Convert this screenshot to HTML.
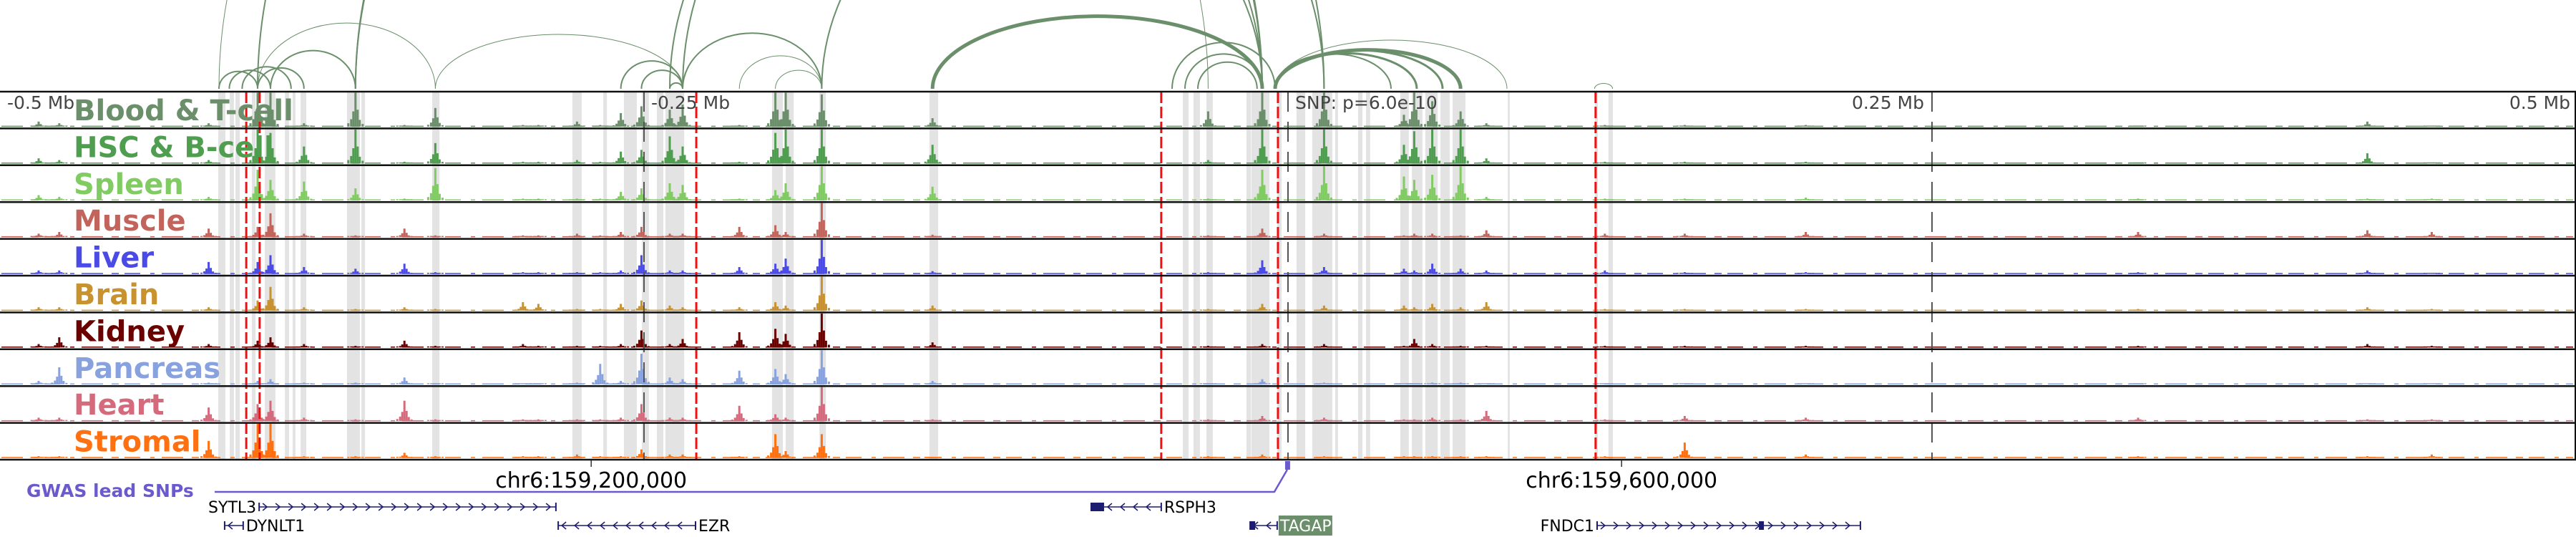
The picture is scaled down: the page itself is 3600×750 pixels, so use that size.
<!DOCTYPE html>
<html><head><meta charset="utf-8"><title>Genome tracks</title>
<style>
html,body{margin:0;padding:0;background:#fff;}
svg{display:block;font-family:"DejaVu Sans","Liberation Sans",sans-serif;}
</style></head>
<body>
<svg id="fig" width="3600" height="750" viewBox="0 0 3600 750" xmlns="http://www.w3.org/2000/svg">
<defs><clipPath id="arcclip"><rect x="0" y="0" width="3600" height="125"/></clipPath></defs>
<g id="arcs" clip-path="url(#arcclip)"></g>
<g id="bands"></g>
<g id="tracks"></g>
<g id="vlines"></g>
<g id="borders"></g>
<g id="labels"></g>
<g id="genes"></g>
</svg>
<script>
// ---- data ----
const trackNames = ["Blood & T-cell","HSC & B-cell","Spleen","Muscle","Liver","Brain","Kidney","Pancreas","Heart","Stromal"];
const trackColors = ["#6a8f6a","#4f9d4f","#80cc62","#c3645c","#4a4ae6","#c8922e","#6b0000","#88a2e0","#d46a7c","#ff7010"];
const peakPos = [-485,-477,-419,-400,-395,-382,-362,-343,-331,-297,-291,-276,-267,-259,-251,-240,-235,-213,-199,-195,-181,-138,-31,-10,14,45,49,56,67,77,123,154,201,330,419,444];
const hBlood   = [.15,.1,.1,1,1,.1,1,.05,.55,.05,.05,.15,.05,.4,.6,.5,.65,.05,1,1,.95,.25,.45,1,1,.35,1,.75,.45,.1,.05,.05,.05,.03,.15,.03];
const hHSC     = [.15,.1,.1,1,.9,.5,1,.05,.6,.05,.05,.1,.05,.35,.4,.8,.5,.05,.9,1,1,.55,.1,1,1,.55,.95,1,1,.15,.05,.05,.05,.03,.3,.03];
const hSpleen  = [.15,.1,.1,.9,.6,.55,.35,.05,.95,.05,.05,.05,.05,.25,.35,.5,.45,.05,.3,.5,1,.4,.05,.9,1,.7,.6,.75,1,.1,.05,.05,.08,.05,.05,.05];
const hMuscle  = [.1,.15,.25,.3,.7,.1,.05,.25,.05,.05,.05,.1,.05,.15,.3,.1,.1,.3,.35,.15,1,.07,.05,.25,.1,.05,.1,.1,.05,.2,.1,.1,.15,.15,.2,.15];
const hLiver   = [.1,.1,.35,.35,.55,.2,.15,.3,.05,.05,.05,.05,.05,.1,.55,.1,.1,.2,.3,.45,1,.08,.05,.4,.2,.15,.1,.3,.15,.1,.1,.05,.05,.05,.1,.03];
const hBrain   = [.1,.1,.1,.3,.7,.1,.05,.1,.05,.25,.2,.05,.05,.2,.3,.15,.1,.1,.25,.15,1,.15,.05,.2,.15,.15,.1,.2,.1,.25,.05,.05,.05,.05,.1,.05];
const hKidney  = [.1,.3,.1,.2,.3,.1,.05,.2,.05,.1,.05,.05,.05,.1,.5,.1,.25,.45,.55,.4,1,.15,.05,.1,.1,.05,.25,.1,.05,.05,.05,.05,.05,.05,.1,.05];
const hPancreas= [.1,.5,.05,.1,.15,.05,.05,.2,.03,.03,.03,.05,.6,.1,.9,.2,.15,.4,.45,.3,1,.1,.03,.15,.05,.03,.03,.05,.05,.03,.03,.03,.03,.03,.03,.03];
const hHeart   = [.1,.1,.4,.5,.6,.1,.05,.6,.05,.05,.05,.05,.05,.1,.5,.1,.1,.45,.2,.1,1,.05,.05,.15,.1,.05,.05,.1,.05,.3,.05,.15,.1,.1,.05,.05];
const hStromal = [.05,.05,.5,1,1,.05,.05,.15,.05,.05,.05,.1,.05,.05,.25,.1,.1,.05,.7,.2,.7,.03,.05,.1,.05,.05,.05,.05,.05,.05,.05,.45,.1,.05,.05,.1];
const bandStarts = [-415.3,-410.8,-408.6,-402.2,-397.2,-389.4,-386.4,-383.3,-365.3,-359.7,-332.2,-277.8,-265.8,-257.8,-250.8,-245,-241.7,-200.3,-195,-181.9,-139.2,-40.8,-36.7,-31.7,-16.1,-14.2,-4.2,3.3,9.4,18.3,27.2,30.3,43.6,48.1,53.3,59.2,63.9,85.3,119.2,124.4];
const bandEnds   = [-412.5,-409.2,-406.9,-400.8,-393.1,-387.8,-385.3,-381.1,-360.3,-358.3,-329.4,-274.2,-264.4,-252.8,-248.1,-242.5,-234.4,-196.1,-191.9,-179.4,-135.8,-38.6,-34.2,-29.2,-14.4,-7.2,-2.5,6.7,17.2,19.4,28.9,31.9,46.9,52.2,58.1,62.8,68.9,86.1,120.3,126.1];
const snpLines = [-404.4,-399.2,-229.7,-49.2,-3.9,119.4];
const axisTicksMb = [-0.25,0,0.25];
const arcStart = [-415,-411,-406,-400,-395,-400,-415,-400,-362,-362,-331,-259,-251,-240,-235,-235,-240,-213,-199,-181,-138,-40,-45,-35,-5,-5,-5,-5,-5,119];
const arcEnd   = [-400,-395,-387,-382,-362,-331,-31,-10,-10,14,-235,-235,-235,-235,-181,14,-10,-181,-181,-10,-10,-10,-5,-12,67,60,50,40,85,126];
const arcWeight= [2,2,2,2,2,1,1,2,2,2,1,2,2,2,2,2,2,1,1,2,5,2,2,2,5,3,3,2,1,1];
const arcShape = [.45,.45,.45,.45,.45,.37,.5,.5,.5,.5,.22,.45,.45,.45,.4,.5,.5,.4,.4,.5,.22,.45,.45,.45,.21,.23,.25,.3,.21,.3];
const geneNames = ["SYTL3","DYNLT1","EZR","RSPH3","TAGAP","FNDC1"];
const geneStart = [-399.4,-412.8,-283.3,-76.4,-14.7,120];
const geneEnd   = [-284.2,-405.6,-230,-49.2,-4.2,222.2];
const geneStrand= [1,-1,-1,-1,-1,1];
const geneExon  = [null,null,null,-76.4,-14.7,182.8];
const coordLabels = ["chr6:159,200,000","chr6:159,600,000"];
const coordKb = [-270.5,129.5];
const leadSnpKb = -0.3;

const heights=[hBlood,hHSC,hSpleen,hMuscle,hLiver,hBrain,hKidney,hPancreas,hHeart,hStromal];
// ---- axis functions ----
const X = kb => 1800 + kb*3.6;
const TOP=128, TH=51.4, NT=10;
const trackTop = i => TOP + i*TH;
const NS="http://www.w3.org/2000/svg";
function mk(tag, attrs, parent){const e=document.createElementNS(NS,tag);for(const k in attrs)e.setAttribute(k,attrs[k]);parent.appendChild(e);return e;}

// arcs
const gA=document.getElementById('arcs');
for(let i=0;i<arcStart.length;i++){
  const x1=X(arcStart[i]), x2=X(arcEnd[i]); const w=Math.abs(x2-x1);
  const h=arcShape[i]*w; const foot=124;
  const p=mk('path',{d:`M${x1},${foot} A${w/2},${h} 0 0 1 ${x2},${foot}`,fill:'none',stroke:'#6a8f6a','stroke-width':arcWeight[i]},gA);
  
  
}
// bands
const gB=document.getElementById('bands');
for(let i=0;i<bandStarts.length;i++){
  const r=mk('rect',{x:X(bandStarts[i]),y:TOP,width:Math.max(2,X(bandEnds[i])-X(bandStarts[i])),height:NT*TH,fill:'#e3e3e3'},gB);
  
  
}
// tracks
const gT=document.getElementById('tracks');
const shape=[[0,1],[-3,.45],[3,.5],[-6,.22],[6,.2],[-10,.1],[10,.08]];
for(let t=0;t<NT;t++){
  const g=mk('g',{},gT);
  
  
  const base=trackTop(t)+TH-2.5;
  mk('line',{x1:2,x2:3596,y1:base-0.5,y2:base-0.5,stroke:trackColors[t],'stroke-width':1.5,'stroke-dasharray':'30 12 10 8 22 14 6 10'},g);
  for(let p=0;p<peakPos.length;p++){
    const h=heights[t][p]*(TH-4); const cx=X(peakPos[p]);
    for(const [dx,f] of shape){
      const bh=Math.max(1.5,h*f);
      const r=mk('rect',{x:cx+dx-1.5,y:base-bh,width:3,height:bh,fill:trackColors[t]},g);
      
      
    }
  }
}
// vertical lines
const gV=document.getElementById('vlines');
for(const kb of axisTicksMb){
  const l=mk('line',{x1:X(kb*1000),x2:X(kb*1000),y1:TOP,y2:TOP+NT*TH,stroke:'#555','stroke-width':2,'stroke-dasharray':'28 14'},gV);
  
  
}
for(const kb of snpLines){
  const l=mk('line',{x1:X(kb),x2:X(kb),y1:TOP,y2:TOP+NT*TH,stroke:'#ee1111','stroke-width':3,'stroke-dasharray':'16 5'},gV);
  
  
}
// borders
const gR=document.getElementById('borders');
for(let t=0;t<=NT;t++){mk('line',{x1:0,x2:3600,y1:trackTop(t),y2:trackTop(t),stroke:'#111','stroke-width':2.5},gR);}
mk('line',{x1:3599,x2:3599,y1:TOP,y2:TOP+NT*TH,stroke:'#111','stroke-width':2},gR);
// labels
const gL=document.getElementById('labels');
for(let t=0;t<NT;t++){
  const tx=mk('text',{x:103,y:trackTop(t)+40,fill:trackColors[t],'font-size':40,'font-weight':'bold'},gL);
  tx.textContent=trackNames[t];
  
  
}
const axisTexts=[["-0.5 Mb",10,'start'],["-0.25 Mb",910,'start'],["SNP: p=6.0e-10",1810,'start'],["0.25 Mb",2689,'end'],["0.5 Mb",3592,'end']];
for(const [s,x,a] of axisTexts){
  const tx=mk('text',{x:x,y:152,fill:'#444','font-size':25,'text-anchor':a},gL);
  tx.textContent=s;
  
  
}
// genes
const gG=document.getElementById('genes');
for(let i=0;i<coordLabels.length;i++){
  const x=X(coordKb[i]);
  mk('line',{x1:x,x2:x,y1:643,y2:652,stroke:'#333','stroke-width':1.5},gG);
  const tx=mk('text',{x:x,y:681,'font-size':30,'text-anchor':'middle',fill:'#000'},gG);
  tx.textContent=coordLabels[i];
  
  
}
const gw=mk('text',{x:37,y:694,'font-size':25,'font-weight':'bold',fill:'#6a5acd'},gG);
gw.textContent='GWAS lead SNPs';


const sx=X(leadSnpKb);
mk('path',{d:`M300,687 L${sx-18},687 L${sx},656`,fill:'none',stroke:'#6a5acd','stroke-width':2.5},gG);
const sm=mk('rect',{x:sx-3,y:644,width:7,height:12,fill:'#6a5acd'},gG);


const geneRow=[716,742,742,716,742,742];
for(let i=0;i<geneNames.length;i++){
  const g=mk('g',{},gG);
  
  
  const x1=X(geneStart[i]), x2=X(geneEnd[i]), y=geneRow[i]-8;
  mk('line',{x1:x1,x2:x2,y1:y,y2:y,stroke:'#1c1c70','stroke-width':1.5},g);
  for(let x=x1+8;x<x2-4;x+=18){
    const d=geneStrand[i]>0?`M${x-3},${y-5} L${x+3},${y} L${x-3},${y+5}`:`M${x+3},${y-5} L${x-3},${y} L${x+3},${y+5}`;
    mk('path',{d:d,fill:'none',stroke:'#1c1c70','stroke-width':1.5},g);
  }
  mk('line',{x1:x1,x2:x1,y1:y-6,y2:y+6,stroke:'#1c1c70','stroke-width':2},g);
  mk('line',{x1:x2,x2:x2,y1:y-6,y2:y+6,stroke:'#1c1c70','stroke-width':2},g);
  if(geneExon[i]!==null){const ex=X(geneExon[i]); mk('rect',{x:ex,y:y-6,width:i===3?18:7,height:12,fill:'#1c1c70'},g);}
  let lx, anchor;
  if(i===0 || i===5){lx=x1-4;anchor='end';}
  else {lx=x2+4;anchor='start';}
  if(geneNames[i]==='TAGAP'){
    mk('rect',{x:x2+2,y:y-14,width:75,height:28,fill:'#6a8f6a'},g);
  }
  const tx=mk('text',{x:lx,y:geneRow[i],'font-size':22,'text-anchor':anchor,fill:geneNames[i]==='TAGAP'?'#fff':'#000'},g);
  tx.textContent=geneNames[i];
  
  
}
</script>
</body></html>
